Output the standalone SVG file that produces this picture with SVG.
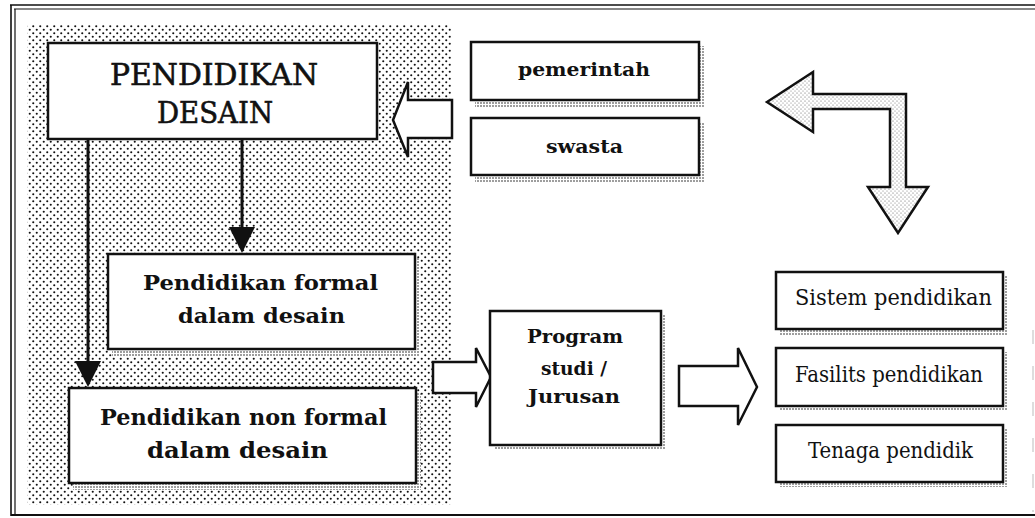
<svg xmlns="http://www.w3.org/2000/svg" width="1035" height="518" viewBox="0 0 1035 518">
  <style>
    .frame { stroke: #111; fill: none; }
    .box { fill: #fff; stroke: #111; stroke-width: 2.5; }
    .shadow { fill: url(#shadowDots); stroke: none; }
    .block { fill: #fff; stroke: #111; stroke-width: 2.5; stroke-linejoin: miter; }
    .link { stroke: #111; stroke-width: 3; fill: none; }
    .title { font-family: "DejaVu Serif", "Liberation Serif", serif; font-size: 30px; fill: #111; stroke: #111; stroke-width: 0.6; }
    .bold { font-family: "DejaVu Serif", "Liberation Serif", serif; font-weight: bold; fill: #111; }
    .plain { font-family: "DejaVu Serif", "Liberation Serif", serif; font-size: 22px; fill: #111; }
  </style>
  <defs>
    <!-- coarse stipple for the background panel -->
    <pattern id="panelDots" width="7" height="7" patternUnits="userSpaceOnUse">
      <rect width="7" height="7" fill="#fff"/>
      <circle cx="1.75" cy="1.75" r="1.05" fill="#111"/>
      <circle cx="5.25" cy="5.25" r="1.05" fill="#111"/>
    </pattern>
    <!-- fine stipple for drop shadows -->
    <pattern id="shadowDots" width="3" height="3" patternUnits="userSpaceOnUse">
      <rect width="3" height="3" fill="#fff"/>
      <circle cx="1" cy="1" r="0.8" fill="#222"/>
    </pattern>
    <!-- light stipple for the bent arrow -->
    <pattern id="lightDots" width="4" height="4" patternUnits="userSpaceOnUse">
      <rect width="4" height="4" fill="#fff"/>
      <circle cx="1" cy="1" r="0.55" fill="#555"/>
      <circle cx="3" cy="3" r="0.55" fill="#777"/>
    </pattern>
    <marker id="head" viewBox="0 0 26 26" markerWidth="26" markerHeight="26" refX="15" refY="13" orient="auto" markerUnits="userSpaceOnUse">
      <path d="M0,0 L26,13 L0,26 z" fill="#111"/>
    </marker>
  </defs>

  <rect width="1035" height="518" fill="#fff"/>

  <!-- outer double frame -->
  <g id="frame" class="frame">
    <line x1="10" y1="5" x2="1035" y2="5" stroke-width="1.6"/>
    <line x1="14" y1="9" x2="1035" y2="9" stroke-width="1.2"/>
    <line x1="11" y1="5" x2="11" y2="516" stroke-width="1.6"/>
    <line x1="15" y1="9" x2="15" y2="515" stroke-width="1.2"/>
    <line x1="11" y1="515" x2="1035" y2="515" stroke-width="2"/>
    <line x1="1033" y1="330" x2="1033" y2="512" stroke="#bbb" stroke-width="1" stroke-dasharray="14 22"/>
  </g>

  <!-- stippled background panel -->
  <rect id="panel" x="27" y="24" width="424" height="481" fill="url(#panelDots)"/>

  <g id="connectors">
    <line class="link" x1="88" y1="139" x2="88" y2="376" marker-end="url(#head)"/>
    <line class="link" x1="242" y1="139" x2="242" y2="242" marker-end="url(#head)"/>
    <!-- hollow block arrows -->
    <polygon class="block" points="452,100 408,100 408,82 393,120 408,157 408,138 452,138"/>
    <polygon class="block" points="433,362 476,362 476,348 491,377 476,407 476,393 433,393"/>
    <polygon class="block" points="679,366 738,366 738,348 757,387 738,425 738,406 679,406"/>
    <polygon class="block" style="fill:url(#lightDots)" points="767,102 813,72 813,94 906,94 906,187 928,187 898,233 868,187 890,187 890,109 813,109 813,132"/>
  </g>

  <g id="pendidikan-desain">
    <rect class="box" x="48" y="43" width="329" height="96"/>
    <text class="title" x="110" y="85" textLength="208" lengthAdjust="spacingAndGlyphs">PENDIDIKAN</text>
    <text class="title" x="157" y="123" textLength="116" lengthAdjust="spacingAndGlyphs">DESAIN</text>
  </g>

  <g id="pendidikan-formal">
    <rect class="shadow" x="112" y="258" width="308" height="99"/>
    <rect class="box" x="108" y="254" width="307" height="95"/>
    <text class="bold" font-size="21" x="143" y="290" textLength="235" lengthAdjust="spacingAndGlyphs">Pendidikan formal</text>
    <text class="bold" font-size="21" x="178" y="323" textLength="167" lengthAdjust="spacingAndGlyphs">dalam desain</text>
  </g>

  <g id="pendidikan-non-formal">
    <rect class="shadow" x="73" y="392" width="348" height="98"/>
    <rect class="box" x="69" y="388" width="347" height="95"/>
    <text class="bold" font-size="22.5" x="100" y="425" textLength="287" lengthAdjust="spacingAndGlyphs">Pendidikan non formal</text>
    <text class="bold" font-size="22.5" x="147" y="458" textLength="181" lengthAdjust="spacingAndGlyphs">dalam desain</text>
  </g>

  <g id="pemerintah">
    <rect class="shadow" x="475" y="46" width="229" height="61"/>
    <rect class="box" x="471" y="42" width="228" height="58"/>
    <text class="bold" font-size="18" x="518" y="76" textLength="132" lengthAdjust="spacingAndGlyphs">pemerintah</text>
  </g>

  <g id="swasta">
    <rect class="shadow" x="475" y="122" width="229" height="60"/>
    <rect class="box" x="471" y="118" width="228" height="57"/>
    <text class="bold" font-size="18" x="546" y="153" textLength="77" lengthAdjust="spacingAndGlyphs">swasta</text>
  </g>

  <g id="program-studi">
    <rect class="shadow" x="494" y="315" width="172" height="135"/>
    <rect class="box" x="490" y="311" width="171" height="134"/>
    <text class="bold" font-size="19" x="527" y="343" textLength="96" lengthAdjust="spacingAndGlyphs">Program</text>
    <text class="bold" font-size="19" x="541" y="375" textLength="66" lengthAdjust="spacingAndGlyphs">studi /</text>
    <text class="bold" font-size="19" x="528" y="403" textLength="92" lengthAdjust="spacingAndGlyphs">Jurusan</text>
  </g>

  <g id="sistem-pendidikan">
    <rect class="shadow" x="780" y="276" width="228" height="59"/>
    <rect class="box" x="776" y="272" width="227" height="57"/>
    <text class="plain" x="795" y="305" textLength="197" lengthAdjust="spacingAndGlyphs">Sistem pendidikan</text>
  </g>

  <g id="fasilits-pendidikan">
    <rect class="shadow" x="780" y="352" width="228" height="59"/>
    <rect class="box" x="776" y="348" width="227" height="58"/>
    <text class="plain" x="795" y="382" textLength="188" lengthAdjust="spacingAndGlyphs">Fasilits pendidikan</text>
  </g>

  <g id="tenaga-pendidik">
    <rect class="shadow" x="780" y="429" width="228" height="58"/>
    <rect class="box" x="776" y="425" width="227" height="57"/>
    <text class="plain" x="808" y="458" textLength="165" lengthAdjust="spacingAndGlyphs">Tenaga pendidik</text>
  </g>
</svg>
